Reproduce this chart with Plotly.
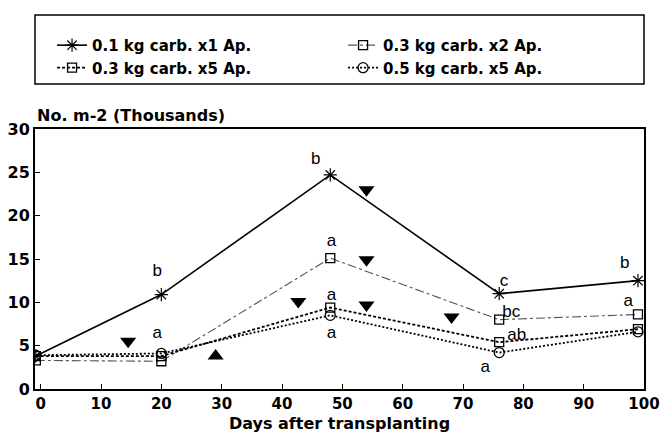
import plotly.graph_objects as go

days = [-0.8, 20, 48, 76, 99]
s_01x1 = [3.8, 10.9, 24.7, 11.0, 12.5]
s_03x2 = [3.3, 3.2, 15.1, 8.0, 8.6]
s_03x5 = [3.8, 3.8, 9.4, 5.4, 6.9]
s_05x5 = [3.9, 4.1, 8.5, 4.2, 6.6]
names = ["0.1 kg carb. x1 Ap.", "0.3 kg carb. x2 Ap.", "0.3 kg carb. x5 Ap.", "0.5 kg carb. x5 Ap."]

arrow_down_x = [14.5, 42.7, 54.0, 54.0, 54.0, 68.1]
arrow_down_y = [5.5, 10.1, 23.0, 14.9, 9.7, 8.3]
arrow_up_x = [29.0]
arrow_up_y = [3.8]

letters = ["b", "a", "b", "a", "a", "a", "c", "bc", "ab", "a", "b", "a"]
letter_x = [19.3, 19.3, 45.6, 48.2, 48.2, 48.2, 76.8, 78.0, 78.9, 73.7, 96.8, 97.4]
letter_y = [13.5, 6.4, 26.4, 17.0, 10.8, 6.4, 12.4, 8.85, 6.1, 2.5, 14.4, 10.1]

xticks = list(range(0, 101, 10))
yticks = list(range(0, 31, 5))

FONT = "DejaVu Sans"

fig = go.Figure()
fig.add_trace(go.Scatter(x=days, y=s_01x1, name=names[0], mode="lines+markers",
                         line=dict(color="black", width=1.6),
                         marker=dict(symbol="asterisk-open", size=11, color="black", line=dict(width=1.2, color="black"))))
fig.add_trace(go.Scatter(x=days, y=s_03x2, name=names[1], mode="lines+markers",
                         line=dict(color="#555555", width=1.1, dash="dashdot"),
                         marker=dict(symbol="square-open", size=9, color="black", line=dict(width=1.3, color="black"))))
fig.add_trace(go.Scatter(x=days, y=s_03x5, name=names[2], mode="lines+markers",
                         line=dict(color="black", width=1.8, dash="3px,2px"),
                         marker=dict(symbol="square-open", size=9, color="black", line=dict(width=1.3, color="black"))))
fig.add_trace(go.Scatter(x=days, y=s_05x5, name=names[3], mode="lines+markers",
                         line=dict(color="black", width=1.8, dash="2px,2px"),
                         marker=dict(symbol="circle-open", size=10, color="black", line=dict(width=1.3, color="black"))))
fig.add_trace(go.Scatter(x=arrow_down_x, y=arrow_down_y, mode="markers", showlegend=False, hoverinfo="skip",
                         marker=dict(symbol="triangle-down", size=14, color="black")))
fig.add_trace(go.Scatter(x=arrow_up_x, y=arrow_up_y, mode="markers", showlegend=False, hoverinfo="skip",
                         marker=dict(symbol="triangle-up", size=14, color="black")))
fig.add_trace(go.Scatter(x=letter_x, y=letter_y, mode="text", text=letters, showlegend=False, hoverinfo="skip",
                         textfont=dict(family="Liberation Sans", size=17, color="black", weight="normal")))

fig.update_layout(
    width=660, height=446,
    margin=dict(l=35, r=16, t=129, b=57, autoexpand=False),
    plot_bgcolor="white", paper_bgcolor="white",
    font=dict(family=FONT, size=14, color="black", weight="bold"),
    showlegend=True,
    legend=dict(orientation="h", x=0.028, y=1.385, xref="paper", yref="paper", xanchor="left", yanchor="top",
                entrywidth=246, entrywidthmode="pixels",
                borderwidth=0, bgcolor="rgba(0,0,0,0)",
                font=dict(family=FONT, size=15, weight="bold"), itemwidth=30, tracegroupgap=0),
    xaxis=dict(range=[-0.94, 100], tickmode="array", tickvals=xticks, ticks="inside", ticklen=5,
               tickwidth=1.2, tickcolor="black", showline=True, linecolor="black", linewidth=2, mirror=True,
               showgrid=False, zeroline=False, automargin=False,
               title=dict(text="Days after transplanting", font=dict(size=16, weight="bold"), standoff=6),
               tickfont=dict(size=15, weight="bold")),
    yaxis=dict(range=[0, 30], tickmode="array", tickvals=yticks, ticks="inside", ticklen=5,
               tickwidth=1.2, tickcolor="black", showline=True, linecolor="black", linewidth=2, mirror=True,
               showgrid=False, zeroline=False, automargin=False, tickfont=dict(size=16, weight="bold")),
    shapes=[dict(type="rect", xref="paper", yref="paper", x0=0, x1=1.0, y0=1.173, y1=1.4385,
                 line=dict(color="black", width=1.5), fillcolor="rgba(0,0,0,0)")],
    annotations=[dict(text="No. m-2 (Thousands)", xref="paper", yref="paper", x=0, y=1.0, xanchor="left",
                      yanchor="bottom", yshift=2, showarrow=False, font=dict(size=16, weight="bold"))],
)

fig.write_html("out.html", config={"displayModeBar": False},
               post_script="document.body.style.margin='0';")
